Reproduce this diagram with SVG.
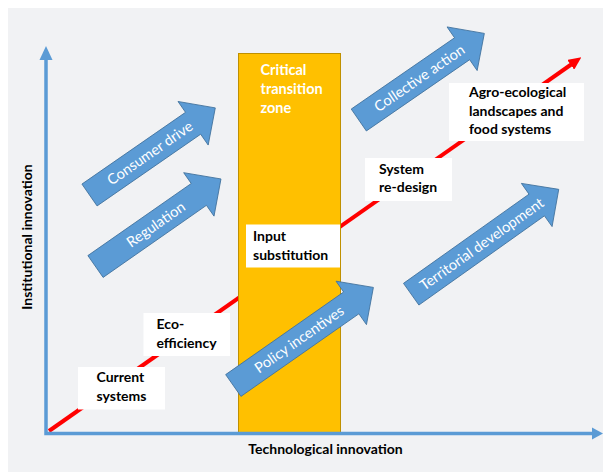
<svg xmlns="http://www.w3.org/2000/svg" width="603" height="472" viewBox="0 0 603 472">
  <style>
    .lbl { font-family: Lato, "Open Sans", "Liberation Sans", sans-serif; font-weight: bold; font-size: 14px; fill: #000; }
    .wlbl { font-family: Lato, "Open Sans", "Liberation Sans", sans-serif; font-weight: bold; font-size: 14.5px; fill: #fff; }
    .atxt { font-family: Lato, "Open Sans", "Liberation Sans", sans-serif; font-size: 14.5px; fill: #fff; text-anchor: middle; }
    .box { fill: #fff; }
    .barrow { fill: #5b9bd5; stroke: #41719c; stroke-width: 0.8; }
    .axis { stroke: #5b9bd5; stroke-width: 3.5; fill: none; }
    .axhead { fill: #5b9bd5; }
  </style>
  <defs>
    <marker id="redhead" markerUnits="userSpaceOnUse" viewBox="0 0 13 12" markerWidth="13" markerHeight="12" refX="4" refY="6" orient="auto">
      <path d="M0,0 L13,6 L0,12 z" fill="#ff0000"/>
    </marker>
  </defs>
  <rect x="0" y="0" width="603" height="472" fill="#ffffff"/>
  <rect x="8" y="8" width="595" height="464" fill="#f1f2f4"/>

  <g id="connectors">
    <line x1="49" y1="431" x2="574" y2="62.5" stroke="#ff0000" stroke-width="4" marker-end="url(#redhead)"/>
  </g>

  <g id="critical-zone">
    <rect x="238.5" y="53.5" width="102" height="379" fill="#ffc000" stroke="#bf9000" stroke-width="1"/>
    <text class="wlbl" x="260.5" y="75">Critical</text>
    <text class="wlbl" x="260.5" y="94">transition</text>
    <text class="wlbl" x="260.5" y="113">zone</text>
  </g>

  <g id="current-systems">
    <rect class="box" x="78" y="367" width="87" height="42.5"/>
    <text class="lbl" x="96.5" y="382">Current</text>
    <text class="lbl" x="96.5" y="401">systems</text>
  </g>
  <g id="eco-efficiency">
    <rect class="box" x="143.5" y="313" width="86.5" height="43"/>
    <text class="lbl" x="156.5" y="328.5">Eco-</text>
    <text class="lbl" x="156.5" y="347.5">efficiency</text>
  </g>
  <g id="input-substitution">
    <rect class="box" x="246" y="224.5" width="94" height="43"/>
    <text class="lbl" x="253" y="241">Input</text>
    <text class="lbl" x="253" y="260">substitution</text>
  </g>
  <g id="system-redesign">
    <rect class="box" x="365" y="158" width="87" height="43"/>
    <text class="lbl" x="379" y="173.5">System</text>
    <text class="lbl" x="379" y="192">re-design</text>
  </g>
  <g id="agro-ecological">
    <rect class="box" x="449" y="83" width="135" height="58"/>
    <text class="lbl" x="469" y="97">Agro-ecological</text>
    <text class="lbl" x="469" y="115.5">landscapes and</text>
    <text class="lbl" x="469" y="134">food systems</text>
  </g>

  <g id="consumer-drive" transform="translate(89.5,195) rotate(-34.7)">
    <path class="barrow" d="M0,-13.3 L126,-13.3 L126,-26.5 L153,0 L126,26.5 L126,13.3 L0,13.3 Z"/>
    <text class="atxt" x="73.5" y="5">Consumer drive</text>
  </g>
  <g id="regulation" transform="translate(95.5,266.5) rotate(-34.9)">
    <path class="barrow" d="M0,-13.3 L126,-13.3 L126,-26.5 L153,0 L126,26.5 L126,13.3 L0,13.3 Z"/>
    <text class="atxt" x="73.5" y="5">Regulation</text>
  </g>
  <g id="collective-action" transform="translate(358.8,120) rotate(-34.6)">
    <path class="barrow" d="M0,-13.3 L125.5,-13.3 L125.5,-26.5 L152.5,0 L125.5,26.5 L125.5,13.3 L0,13.3 Z"/>
    <text class="atxt" x="73.5" y="5">Collective action</text>
  </g>
  <g id="policy-incentives" transform="translate(233.3,385.5) rotate(-35)">
    <path class="barrow" d="M0,-13.3 L144,-13.3 L144,-26.5 L171,0 L144,26.5 L144,13.3 L0,13.3 Z"/>
    <text class="atxt" x="80.5" y="5">Policy incentives</text>
  </g>
  <g id="territorial-development" transform="translate(411.2,294.2) rotate(-35.4)">
    <path class="barrow" d="M0,-13.3 L154,-13.3 L154,-26.5 L181,0 L154,26.5 L154,13.3 L0,13.3 Z"/>
    <text class="atxt" x="86.5" y="5">Territorial development</text>
  </g>

  <g id="axes">
    <path class="axis" d="M46,58 L46,433.5 L594,433.5"/>
    <polygon class="axhead" points="46,46 39.5,60 52.5,60"/>
    <polygon class="axhead" points="603,433.5 592,427.5 592,439.5"/>
    <text class="lbl" x="325.5" y="453.5" text-anchor="middle">Technological innovation</text>
    <text class="lbl" transform="translate(31.5,237) rotate(-90)" text-anchor="middle">Institutional innovation</text>
  </g>
</svg>
